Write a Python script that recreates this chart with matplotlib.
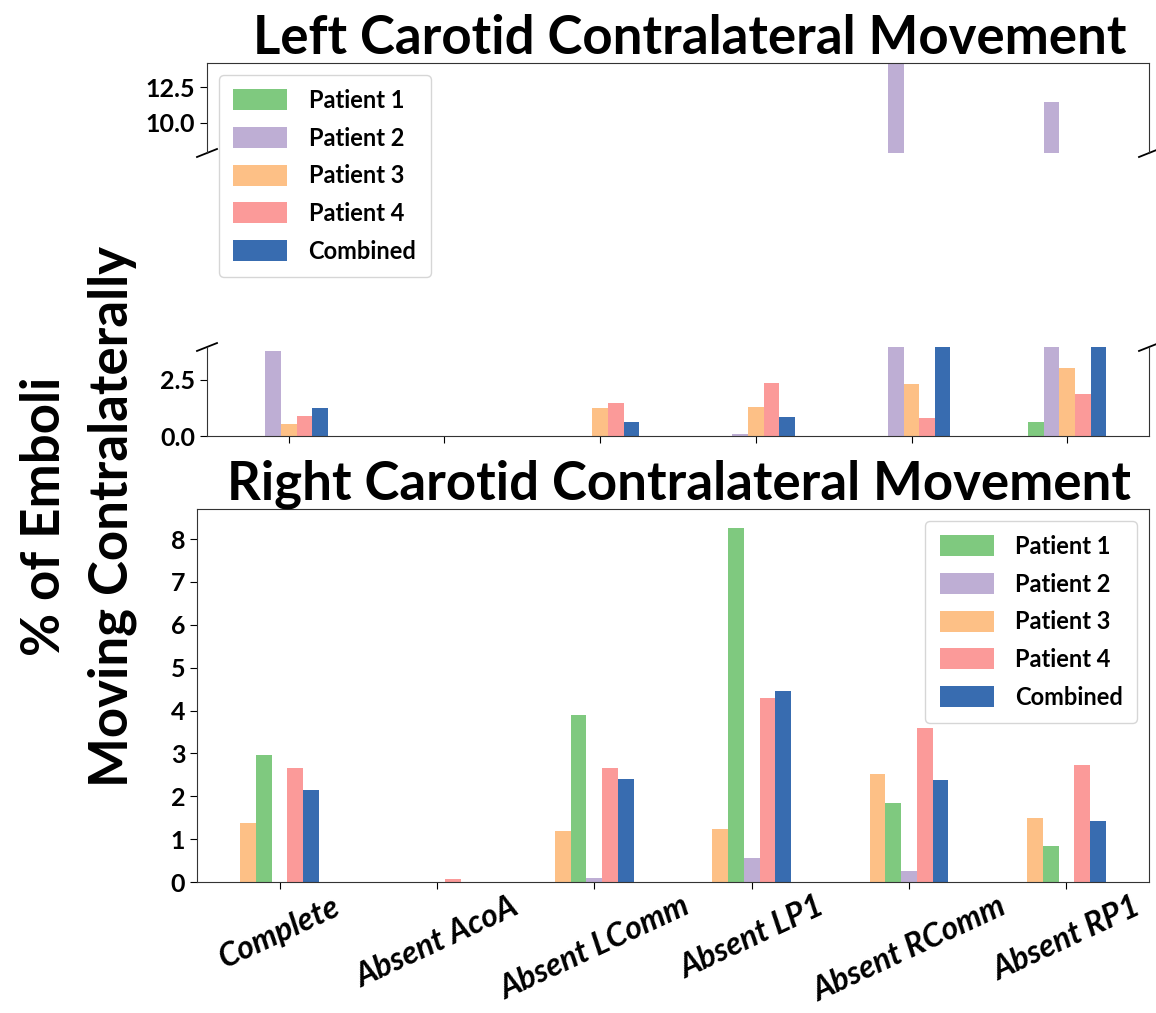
# libraries
import numpy as np
import matplotlib
matplotlib.use("Agg")
import matplotlib.pyplot as plt

plt.rcParams['font.family'] = ['Lato', 'DejaVu Sans']
plt.rcParams['font.weight'] = 'bold'

# data
categories = ['Complete', 'Absent AcoA', 'Absent LComm', 'Absent LP1', 'Absent RComm', 'Absent RP1']
series = ['Patient 1', 'Patient 2', 'Patient 3', 'Patient 4', 'Combined']
colors = ['#7fc97f', '#beaed4', '#fdc086', '#fb9a99', '#386cb0']

# left carotid (% of emboli moving contralaterally)
left_p1 = [0.0, 0.0, 0.0, 0.0, 0.0, 0.61]
left_p2 = [3.78, 0.0, 0.0, 0.10, 15.0, 11.48]
left_p3 = [0.54, 0.0, 1.26, 1.29, 2.33, 3.04]
left_p4 = [0.90, 0.0, 1.47, 2.34, 0.78, 1.86]
left_comb = [1.26, 0.0, 0.64, 0.84, 5.2, 4.6]

# right carotid
right_p1 = [2.97, 0.0, 3.89, 8.26, 1.85, 0.85]
right_p2 = [0.0, 0.0, 0.09, 0.56, 0.26, 0.0]
right_p3 = [1.37, 0.0, 1.18, 1.24, 2.53, 1.50]
right_p4 = [2.67, 0.06, 2.65, 4.29, 3.60, 2.74]
right_comb = [2.15, 0.0, 2.41, 4.46, 2.39, 1.43]

left = [left_p1, left_p2, left_p3, left_p4, left_comb]
right = [right_p1, right_p2, right_p3, right_p4, right_comb]
left_offsets = [-2, -1, 0, 1, 2]
right_offsets = [-1, 0, -2, 1, 2]

W, H = 1156, 1013
fig = plt.figure(figsize=(W / 100, H / 100), dpi=100)

def px_axes(l, t, r, b):
    return fig.add_axes([l / W, 1 - b / H, (r - l) / W, (b - t) / H])

ax_hi = px_axes(207, 63, 1149, 153)
ax_lo = px_axes(207, 347, 1149, 436)
ax_r = px_axes(197, 509, 1149, 882)

x = np.arange(len(categories))
width = 0.1

for ax in (ax_hi, ax_lo):
    for vals, off, c, lab in zip(left, left_offsets, colors, series):
        ax.bar(x + off * width, vals, width, color=c, label=lab)
    ax.set_xlim(-0.525, 5.525)

ax_hi.set_ylim(7.9, 14.2)
ax_lo.set_ylim(0, 3.96)
ax_hi.set_yticks([10.0, 12.5])
ax_lo.set_yticks([0.0, 2.5])
ax_hi.spines['bottom'].set_visible(False)
ax_lo.spines['top'].set_visible(False)
ax_hi.tick_params(axis='x', bottom=False, labelbottom=False)
ax_lo.set_xticks(x)
ax_lo.set_xticklabels([])

# break marks
dx, dy = 10 / 942, 4 / 90
kw = dict(color='k', clip_on=False, lw=1.3)
ax_hi.plot((-dx, dx), (-dy, dy), transform=ax_hi.transAxes, **kw)
ax_hi.plot((1 - dx, 1 + dx), (-dy, dy), transform=ax_hi.transAxes, **kw)
ax_lo.plot((-dx, dx), (1 - dy, 1 + dy), transform=ax_lo.transAxes, **kw)
ax_lo.plot((1 - dx, 1 + dx), (1 - dy, 1 + dy), transform=ax_lo.transAxes, **kw)

for ax in (ax_hi, ax_lo, ax_r):
    ax.tick_params(labelsize=18, length=5)
    for s in ax.spines.values():
        s.set_color('#333333')

leg_kw = dict(fontsize=17, handlelength=2.3, handleheight=1.0, labelspacing=0.62,
              handletextpad=0.9, borderpad=0.6)
ax_hi.legend(loc='upper left', **leg_kw)
ax_hi.set_title('Left Carotid Contralateral Movement', fontsize=38, fontweight='bold',
                pad=4, x=0.513)

for vals, off, c, lab in zip(right, right_offsets, colors, series):
    ax_r.bar(x + off * width, vals, width, color=c, label=lab)
ax_r.set_xlim(-0.525, 5.525)
ax_r.set_ylim(0, 8.7)
ax_r.set_yticks(range(0, 9))
ax_r.set_xticks(x)
ax_r.tick_params(axis='x', pad=2)
ax_r.set_xticklabels(categories, rotation=25, ha='center', fontsize=23,
                     fontstyle='italic', fontweight='bold')
ax_r.legend(loc='upper right', **leg_kw)
ax_r.set_title('Right Carotid Contralateral Movement', fontsize=38, fontweight='bold',
               pad=6, x=0.506)

fig.text(0.068, 0.49, '% of Emboli\nMoving Contralaterally', rotation=90, ha='center',
         va='center', fontsize=38, fontweight='bold', linespacing=1.45)

plt.savefig('out.png', dpi=100)
